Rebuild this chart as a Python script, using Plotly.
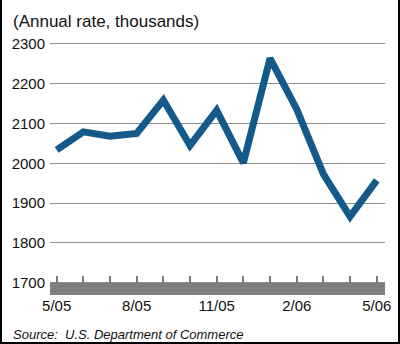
import plotly.graph_objects as go

# Monthly housing starts, seasonally adjusted annual rate (thousands)
months = ["5/05", "6/05", "7/05", "8/05", "9/05", "10/05", "11/05",
          "12/05", "1/06", "2/06", "3/06", "4/06", "5/06"]
starts = [2034, 2079, 2068, 2075, 2159, 2045, 2133, 2001, 2264, 2136, 1973, 1866, 1957]
label_months = ["5/05", "8/05", "11/05", "2/06", "5/06"]
y_ticks = [1700, 1800, 1900, 2000, 2100, 2200, 2300]

W, H = 400, 344
FONT = "Liberation Sans, Arial, sans-serif"

# plot area in pixels
px_left, px_right = 50, 385
px_top, px_bottom = 40, 295

idx = list(range(len(months)))
x_rng = [-0.25, 12.31]
y_rng = [1669, 2310]

def py(pix):
    return 1 - pix / H

fig = go.Figure()
fig.add_trace(go.Scatter(
    x=idx, y=starts, mode="lines",
    line=dict(color="#135a8b", width=7),
    hoverinfo="skip", showlegend=False,
))
# invisible trace carrying the tick axis along the base band
fig.add_trace(go.Scatter(x=idx, y=starts, xaxis="x2", mode="lines",
                         line=dict(width=0), hoverinfo="skip", showlegend=False))

fig.update_layout(
    template="none",
    width=W, height=H,
    margin=dict(l=0, r=0, t=0, b=0, pad=0),
    paper_bgcolor="white", plot_bgcolor="white",
    font=dict(family=FONT, color="#111111"),
    xaxis=dict(
        domain=[px_left / W, px_right / W],
        range=x_rng, automargin=False,
        tickvals=[months.index(m) for m in label_months],
        ticktext=label_months,
        ticks="", showgrid=False, zeroline=False, showline=False,
        tickfont=dict(size=15, family=FONT, color="#111111"),
        anchor="y",
    ),
    xaxis2=dict(
        overlaying="x", range=x_rng, anchor="free", automargin=False,
        position=py(282.7), side="top",
        tickvals=idx, showticklabels=False,
        ticks="outside", ticklen=7, tickwidth=1.5, tickcolor="#7a7a7a",
        showgrid=False, zeroline=False, showline=False,
    ),
    yaxis=dict(
        domain=[py(px_bottom), py(px_top)],
        range=y_rng, automargin=False,
        tickvals=y_ticks,
        ticks="", ticklabelstandoff=4,
        showgrid=True, gridcolor="#8f8f8f", gridwidth=1.3,
        zeroline=False, showline=False,
        tickfont=dict(size=15, family=FONT, color="#111111"),
    ),
    shapes=[
        # base band under the 1700 line
        dict(type="rect", xref="x", yref="y", x0=x_rng[0], x1=x_rng[1],
             y0=y_rng[0], y1=1700, fillcolor="#7f7f7f", line=dict(width=0),
             layer="between"),
        # frame on left, right and bottom
        dict(type="line", xref="paper", yref="paper", x0=1 / W, x1=1 / W, y0=0, y1=1,
             line=dict(color="black", width=2)),
        dict(type="line", xref="paper", yref="paper", x0=1 - 1 / W, x1=1 - 1 / W, y0=0, y1=1,
             line=dict(color="black", width=2)),
        dict(type="line", xref="paper", yref="paper", x0=0, x1=1, y0=1 / H, y1=1 / H,
             line=dict(color="black", width=2)),
    ],
    annotations=[
        dict(text="(Annual rate, thousands)", xref="paper", yref="paper",
             x=11 / W, y=py(21), xanchor="left", yanchor="middle",
             showarrow=False, font=dict(size=17, family=FONT, color="#111111")),
        dict(text="<i>Source:  U.S. Department of Commerce</i>", xref="paper", yref="paper",
             x=11 / W, y=py(334), xanchor="left", yanchor="middle",
             showarrow=False, font=dict(size=13, family=FONT, color="#111111")),
    ],
)

fig.write_html("out.html", config={"displayModeBar": False})
